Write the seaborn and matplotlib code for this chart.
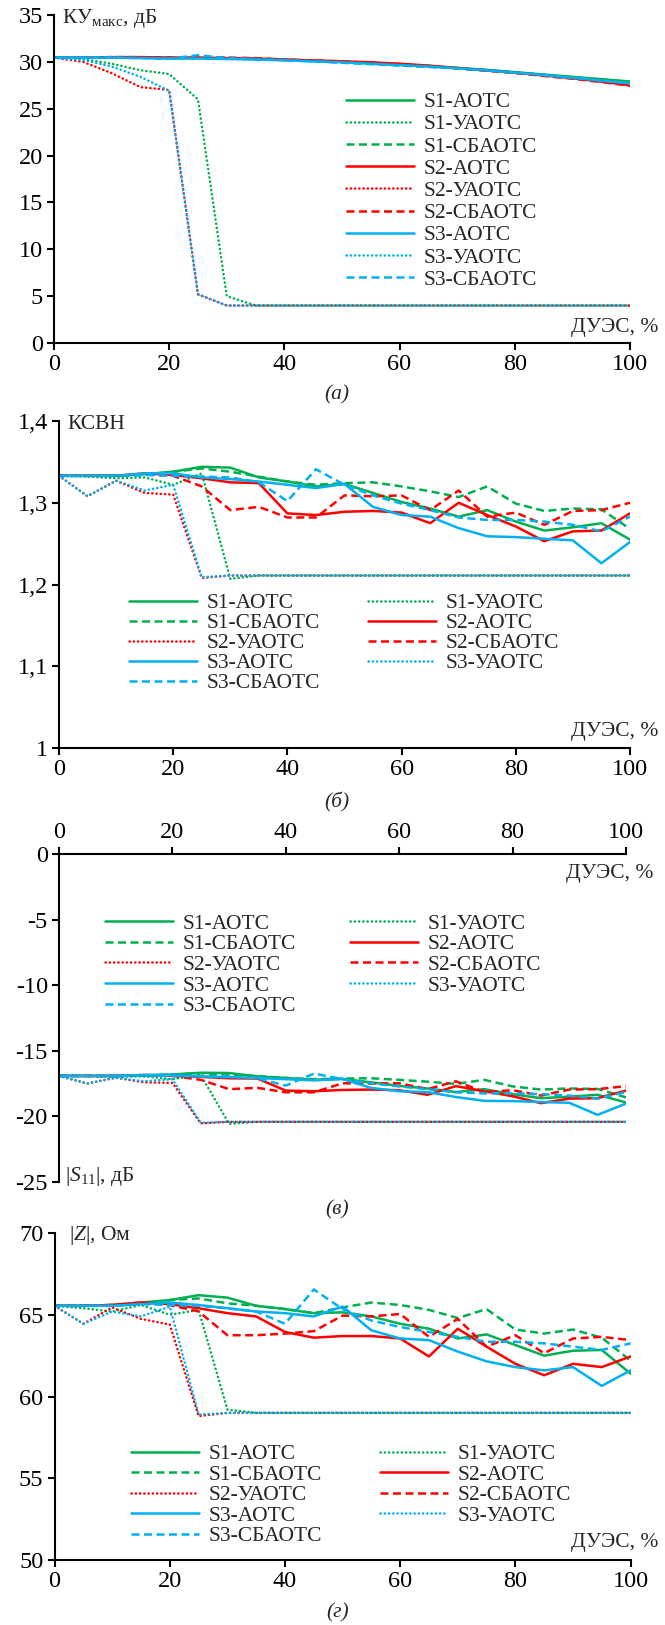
import matplotlib
matplotlib.use("Agg")
import matplotlib.pyplot as plt
from matplotlib.ticker import FuncFormatter
import seaborn as sns

# DUES, % (x grid of the source table)
X = [0, 5, 10, 15, 20, 25, 30, 35, 40, 45, 50, 55, 60, 65, 70, 75, 80, 85, 90, 95, 100]

NAMES = ["S1-АОТС", "S1-УАОТС", "S1-СБАОТС",
         "S2-АОТС", "S2-УАОТС", "S2-СБАОТС",
         "S3-АОТС", "S3-УАОТС", "S3-СБАОТС"]

# (а) KU max, dB
KU_S1_AOTC = [30.45, 30.45, 30.45, 30.45, 30.4, 30.4, 30.35, 30.3, 30.2, 30.1, 30.0, 29.85, 29.7, 29.55, 29.35, 29.15, 28.9, 28.65, 28.4, 28.15, 27.9]
KU_S1_UAOTC = [30.45, 30.3, 29.8, 29.1, 28.7, 26.0, 5.0, 4.0, 4.0, 4.0, 4.0, 4.0, 4.0, 4.0, 4.0, 4.0, 4.0, 4.0, 4.0, 4.0, 4.0]
KU_S1_SBAOTC = [30.45, 30.45, 30.45, 30.45, 30.4, 30.4, 30.35, 30.3, 30.2, 30.1, 29.95, 29.8, 29.65, 29.5, 29.3, 29.1, 28.85, 28.6, 28.35, 28.1, 27.85]
KU_S2_AOTC = [30.45, 30.45, 30.5, 30.5, 30.45, 30.45, 30.4, 30.35, 30.25, 30.15, 30.05, 29.95, 29.8, 29.6, 29.35, 29.1, 28.85, 28.55, 28.25, 27.9, 27.5]
KU_S2_UAOTC = [30.45, 30.0, 28.8, 27.3, 27.0, 5.2, 4.0, 4.0, 4.0, 4.0, 4.0, 4.0, 4.0, 4.0, 4.0, 4.0, 4.0, 4.0, 4.0, 4.0, 4.0]
KU_S2_SBAOTC = [30.45, 30.45, 30.5, 30.5, 30.45, 30.5, 30.45, 30.4, 30.25, 30.15, 30.05, 29.9, 29.75, 29.55, 29.3, 29.05, 28.8, 28.5, 28.2, 27.85, 27.45]
KU_S3_AOTC = [30.45, 30.45, 30.45, 30.4, 30.35, 30.35, 30.3, 30.25, 30.15, 30.05, 29.95, 29.8, 29.65, 29.5, 29.3, 29.1, 28.85, 28.6, 28.3, 28.0, 27.7]
KU_S3_UAOTC = [30.45, 30.2, 29.5, 28.4, 26.9, 5.2, 4.0, 4.0, 4.0, 4.0, 4.0, 4.0, 4.0, 4.0, 4.0, 4.0, 4.0, 4.0, 4.0, 4.0, 4.0]
KU_S3_SBAOTC = [30.45, 30.45, 30.45, 30.4, 30.35, 30.7, 30.4, 30.3, 30.2, 30.05, 29.9, 29.75, 29.6, 29.45, 29.3, 29.1, 28.85, 28.6, 28.3, 28.0, 27.7]

# (б) VSWR
VS_S1_AOTC = [1.333, 1.333, 1.333, 1.335, 1.338, 1.344, 1.343, 1.331, 1.326, 1.320, 1.323, 1.312, 1.301, 1.293, 1.283, 1.291, 1.277, 1.266, 1.270, 1.275, 1.255]
VS_S1_UAOTC = [1.333, 1.332, 1.330, 1.331, 1.322, 1.336, 1.207, 1.211, 1.211, 1.211, 1.211, 1.211, 1.211, 1.211, 1.211, 1.211, 1.211, 1.211, 1.211, 1.211, 1.211]
VS_S1_SBAOTC = [1.333, 1.333, 1.333, 1.334, 1.338, 1.342, 1.338, 1.332, 1.326, 1.322, 1.324, 1.325, 1.320, 1.314, 1.307, 1.320, 1.299, 1.290, 1.293, 1.292, 1.268]
VS_S2_AOTC = [1.333, 1.333, 1.333, 1.336, 1.334, 1.330, 1.325, 1.324, 1.287, 1.285, 1.289, 1.290, 1.288, 1.275, 1.300, 1.285, 1.271, 1.253, 1.265, 1.266, 1.287]
VS_S2_UAOTC = [1.333, 1.308, 1.327, 1.312, 1.310, 1.208, 1.211, 1.211, 1.211, 1.211, 1.211, 1.211, 1.211, 1.211, 1.211, 1.211, 1.211, 1.211, 1.211, 1.211, 1.211]
VS_S2_SBAOTC = [1.333, 1.333, 1.333, 1.335, 1.333, 1.320, 1.291, 1.295, 1.282, 1.282, 1.309, 1.308, 1.309, 1.291, 1.315, 1.283, 1.288, 1.273, 1.290, 1.291, 1.300]
VS_S3_AOTC = [1.333, 1.333, 1.333, 1.336, 1.336, 1.331, 1.329, 1.326, 1.322, 1.318, 1.323, 1.295, 1.285, 1.283, 1.269, 1.259, 1.258, 1.256, 1.254, 1.226, 1.252]
VS_S3_UAOTC = [1.333, 1.308, 1.327, 1.315, 1.322, 1.209, 1.211, 1.211, 1.211, 1.211, 1.211, 1.211, 1.211, 1.211, 1.211, 1.211, 1.211, 1.211, 1.211, 1.211, 1.211]
VS_S3_SBAOTC = [1.333, 1.333, 1.333, 1.334, 1.333, 1.332, 1.331, 1.325, 1.302, 1.341, 1.322, 1.309, 1.299, 1.291, 1.282, 1.279, 1.279, 1.277, 1.273, 1.265, 1.283]

# (в) |S11|, dB
S11_S1_AOTC = [-16.91, -16.91, -16.91, -16.86, -16.80, -16.67, -16.69, -16.95, -17.07, -17.21, -17.14, -17.40, -17.67, -17.87, -18.14, -17.92, -18.30, -18.61, -18.49, -18.35, -18.93]
S11_S1_UAOTC = [-16.91, -16.93, -16.98, -16.95, -17.16, -16.84, -20.56, -20.41, -20.41, -20.41, -20.41, -20.41, -20.41, -20.41, -20.41, -20.41, -20.41, -20.41, -20.41, -20.41, -20.41]
S11_S1_SBAOTC = [-16.91, -16.91, -16.91, -16.89, -16.80, -16.71, -16.80, -16.93, -17.07, -17.16, -17.11, -17.09, -17.21, -17.35, -17.52, -17.21, -17.71, -17.95, -17.87, -17.90, -18.55]
S11_S2_AOTC = [-16.91, -16.91, -16.91, -16.84, -16.89, -16.98, -17.09, -17.11, -18.03, -18.08, -17.98, -17.95, -18.00, -18.35, -17.69, -18.08, -18.46, -18.99, -18.64, -18.61, -18.03]
S11_S2_UAOTC = [-16.91, -17.49, -17.05, -17.40, -17.44, -20.53, -20.41, -20.41, -20.41, -20.41, -20.41, -20.41, -20.41, -20.41, -20.41, -20.41, -20.41, -20.41, -20.41, -20.41, -20.41]
S11_S2_SBAOTC = [-16.91, -16.91, -16.91, -16.86, -16.91, -17.21, -17.92, -17.82, -18.16, -18.16, -17.47, -17.49, -17.47, -17.92, -17.32, -18.14, -18.00, -18.41, -17.95, -17.92, -17.69]
S11_S3_AOTC = [-16.91, -16.91, -16.91, -16.84, -16.84, -16.95, -17.00, -17.07, -17.16, -17.25, -17.14, -17.82, -18.08, -18.14, -18.52, -18.81, -18.83, -18.90, -18.96, -19.88, -19.02]
S11_S3_UAOTC = [-16.91, -17.49, -17.05, -17.32, -17.16, -20.48, -20.41, -20.41, -20.41, -20.41, -20.41, -20.41, -20.41, -20.41, -20.41, -20.41, -20.41, -20.41, -20.41, -20.41, -20.41]
S11_S3_SBAOTC = [-16.91, -16.91, -16.91, -16.89, -16.91, -16.93, -16.95, -17.09, -17.65, -16.73, -17.16, -17.47, -17.71, -17.92, -18.16, -18.24, -18.24, -18.30, -18.41, -18.64, -18.14]

# (г) |Z|, Ohm
Z_S1_AOTC = [65.55, 65.55, 65.6, 65.75, 65.9, 66.2, 66.05, 65.55, 65.35, 65.1, 65.15, 64.9, 64.45, 64.15, 63.55, 63.8, 63.15, 62.5, 62.8, 62.85, 61.4]
Z_S1_UAOTC = [65.55, 65.4, 65.2, 65.6, 65.0, 65.3, 59.2, 59.0, 59.0, 59.0, 59.0, 59.0, 59.0, 59.0, 59.0, 59.0, 59.0, 59.0, 59.0, 59.0, 59.0]
Z_S1_SBAOTC = [65.55, 65.55, 65.55, 65.7, 65.9, 66.0, 65.7, 65.55, 65.35, 65.1, 65.45, 65.75, 65.6, 65.3, 64.8, 65.35, 64.1, 63.85, 64.1, 63.6, 62.2]
Z_S2_AOTC = [65.55, 65.55, 65.6, 65.75, 65.65, 65.4, 65.1, 64.9, 63.95, 63.6, 63.7, 63.7, 63.55, 62.45, 64.15, 63.05, 62.0, 61.3, 62.0, 61.8, 62.45]
Z_S2_UAOTC = [65.55, 64.45, 65.45, 64.75, 64.4, 58.8, 59.0, 59.0, 59.0, 59.0, 59.0, 59.0, 59.0, 59.0, 59.0, 59.0, 59.0, 59.0, 59.0, 59.0, 59.0]
Z_S2_SBAOTC = [65.55, 65.55, 65.6, 65.75, 65.6, 65.2, 63.75, 63.75, 63.85, 64.0, 64.95, 64.9, 65.05, 63.65, 64.75, 63.05, 63.75, 62.65, 63.55, 63.65, 63.45]
Z_S3_AOTC = [65.55, 65.55, 65.55, 65.65, 65.75, 65.6, 65.4, 65.2, 65.1, 64.9, 65.5, 64.05, 63.55, 63.45, 62.75, 62.15, 61.8, 61.6, 61.8, 60.65, 61.6]
Z_S3_UAOTC = [65.55, 64.45, 65.2, 64.9, 65.5, 58.9, 59.0, 59.0, 59.0, 59.0, 59.0, 59.0, 59.0, 59.0, 59.0, 59.0, 59.0, 59.0, 59.0, 59.0, 59.0]
Z_S3_SBAOTC = [65.55, 65.55, 65.55, 65.65, 65.6, 65.55, 65.4, 65.2, 64.45, 66.55, 65.35, 64.65, 64.25, 63.95, 63.65, 63.35, 63.35, 63.25, 63.05, 62.85, 63.25]

GREEN, RED, BLUE = "#00B050", "#FF0000", "#00B0F0"
COLORS = [GREEN, GREEN, GREEN, RED, RED, RED, BLUE, BLUE, BLUE]
SOLID, DOT, DASH = "-", (0, (0.1, 1.6)), (0, (3.2, 1.8))
STYLES = [SOLID, DOT, DASH] * 3

FS = 15.5      # legend and axis captions
TFS = 17.5     # tick labels

sns.set_theme(style="ticks")
plt.rcParams["font.family"] = ["Liberation Serif", "DejaVu Serif"]
plt.rcParams["mathtext.fontset"] = "custom"
plt.rcParams["mathtext.rm"] = "Liberation Serif"
plt.rcParams["mathtext.it"] = "Liberation Serif:italic"
plt.rcParams["axes.unicode_minus"] = False
plt.rcParams["font.size"] = FS


def draw_panel(ax, series, ylim, yticks, ncol, legend_xy, comma=False, top=False,
               colspace=2.4, rowspace=0.0):
    for name, vals, color, ls in zip(NAMES, series, COLORS, STYLES):
        sns.lineplot(x=X, y=vals, ax=ax, color=color, linestyle=ls, linewidth=1.8,
                     dash_capstyle="round" if ls == DOT else "butt", label=name)
    ax.set_xlim(0, 100)
    ax.set_ylim(*ylim)
    ax.set_xticks([0, 20, 40, 60, 80, 100])
    ax.set_yticks(yticks)
    if comma:
        ax.yaxis.set_major_formatter(FuncFormatter(lambda v, p: f"{v:g}".replace(".", ",")))
    ax.set_xlabel("")
    ax.set_ylabel("")
    for s in ax.spines.values():
        s.set_linewidth(1.5)
        s.set_color("black")
    ax.spines["right"].set_visible(False)
    if top:
        ax.spines["bottom"].set_visible(False)
        ax.xaxis.tick_top()
    else:
        ax.spines["top"].set_visible(False)
    ax.tick_params(direction="out", length=5, width=1.5, labelsize=TFS, colors="black", pad=3)

    handles, labels = ax.get_legend_handles_labels()
    if ncol == 2:
        order = [0, 2, 4, 6, 8, 1, 3, 5, 7]
        handles = [handles[i] for i in order]
        labels = [labels[i] for i in order]
    ax.legend(handles, labels, ncol=ncol, loc="upper left", bbox_to_anchor=legend_xy,
              frameon=False, fontsize=FS, borderpad=0, borderaxespad=0,
              handlelength=3.15, handletextpad=0.45, labelspacing=rowspace,
              columnspacing=colspace)


fig = plt.figure(figsize=(6.65, 16.25), dpi=100)

ax1 = fig.add_axes([0.0812, 0.7889, 0.866, 0.2019])
draw_panel(ax1, [KU_S1_AOTC, KU_S1_UAOTC, KU_S1_SBAOTC, KU_S2_AOTC, KU_S2_UAOTC,
                 KU_S2_SBAOTC, KU_S3_AOTC, KU_S3_UAOTC, KU_S3_SBAOTC],
           (0, 35), [0, 5, 10, 15, 20, 25, 30, 35], 1, (0.507, 0.765), rowspace=0.1)
ax1.text(0.014, 0.99, "КУ$_{\\mathrm{макс}}$, дБ", transform=ax1.transAxes, ha="left", va="center", fontsize=FS)
ax1.text(1.049, 0.046, "ДУЭС, %", transform=ax1.transAxes, ha="right", va="center", fontsize=FS)

ax2 = fig.add_axes([0.0887, 0.5397, 0.8586, 0.2012])
draw_panel(ax2, [VS_S1_AOTC, VS_S1_UAOTC, VS_S1_SBAOTC, VS_S2_AOTC, VS_S2_UAOTC,
                 VS_S2_SBAOTC, VS_S3_AOTC, VS_S3_UAOTC, VS_S3_SBAOTC],
           (1.0, 1.4), [1.0, 1.1, 1.2, 1.3, 1.4], 2, (0.1226, 0.474), comma=True,
           colspace=2.25)
ax2.text(0.015, 0.988, "КСВН", transform=ax2.transAxes, ha="left", va="center", fontsize=FS)
ax2.text(1.049, 0.05, "ДУЭС, %", transform=ax2.transAxes, ha="right", va="center", fontsize=FS)

ax3 = fig.add_axes([0.0887, 0.2726, 0.8526, 0.2018])
draw_panel(ax3, [S11_S1_AOTC, S11_S1_UAOTC, S11_S1_SBAOTC, S11_S2_AOTC, S11_S2_UAOTC,
                 S11_S2_SBAOTC, S11_S3_AOTC, S11_S3_UAOTC, S11_S3_SBAOTC],
           (-25, 0), [-25, -20, -15, -10, -5, 0], 2, (0.081, 0.819), top=True,
           colspace=2.5, rowspace=0.03)
ax3.text(0.01, 0.016, "$|S_{11}|$, дБ", transform=ax3.transAxes, ha="left", va="center", fontsize=FS)
ax3.text(1.049, 0.942, "ДУЭС, %", transform=ax3.transAxes, ha="right", va="center", fontsize=FS)

ax4 = fig.add_axes([0.0821, 0.0400, 0.8661, 0.2012])
draw_panel(ax4, [Z_S1_AOTC, Z_S1_UAOTC, Z_S1_SBAOTC, Z_S2_AOTC, Z_S2_UAOTC,
                 Z_S2_SBAOTC, Z_S3_AOTC, Z_S3_UAOTC, Z_S3_SBAOTC],
           (50, 70), [50, 55, 60, 65, 70], 2, (0.133, 0.354), colspace=2.7, rowspace=0.02)
ax4.text(0.025, 0.994, "$|Z|$, Ом", transform=ax4.transAxes, ha="left", va="center", fontsize=FS)
ax4.text(1.049, 0.052, "ДУЭС, %", transform=ax4.transAxes, ha="right", va="center", fontsize=FS)

for label, yy in [("(а)", 0.757), ("(б)", 0.506), ("(в)", 0.2554), ("(г)", 0.0075)]:
    fig.text(0.507, yy, label, ha="center", va="center", fontsize=FS, fontstyle="italic")

fig.savefig("out.png", dpi=100)
